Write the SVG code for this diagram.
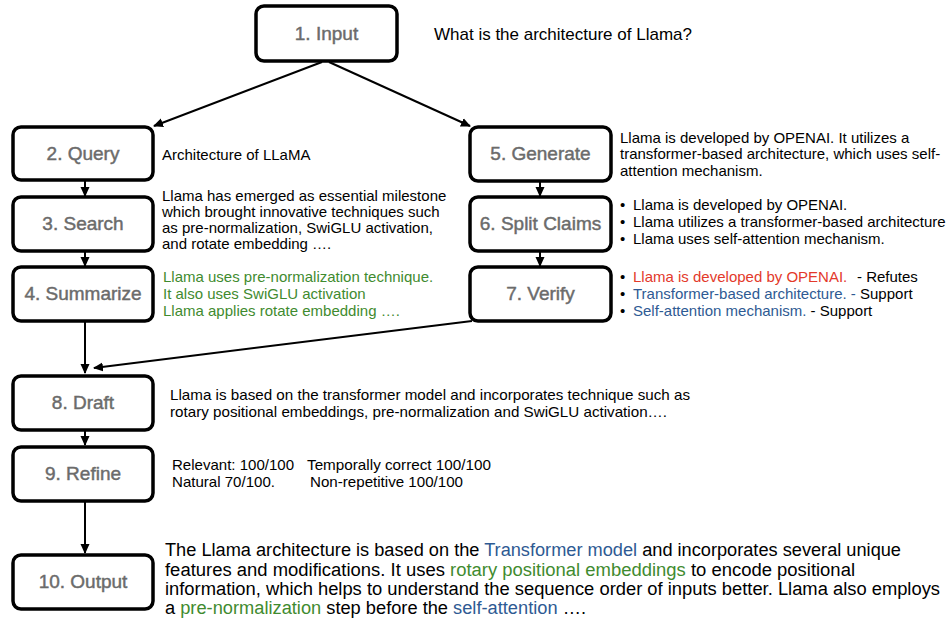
<svg xmlns="http://www.w3.org/2000/svg" width="949" height="621" viewBox="0 0 949 621">
<defs>
<marker id="ah" viewBox="0 0 10 10" refX="9" refY="5" markerWidth="10" markerHeight="10" markerUnits="userSpaceOnUse" orient="auto">
<path d="M0,0.5 L10,5 L0,9.5 Z" fill="#000"/>
</marker>
</defs>
<style>
.box{fill:#fff;stroke:#000;stroke-width:3.5}
.lbl{font-family:"Liberation Sans",Arial,sans-serif;font-size:19px;fill:#6b6b6b;stroke:#6b6b6b;stroke-width:0.45;text-anchor:middle}
.t{font-family:"Liberation Sans",Arial,sans-serif;font-size:15px;fill:#000;white-space:pre}
.c{stroke:#000;stroke-width:2;fill:none;marker-end:url(#ah)}
.g{fill:#3f8b2f}
.b{fill:#2e5a93}
.r{fill:#e3392b}
</style>
<rect width="949" height="621" fill="#fff"/>
<g id="connectors">
<line class="c" x1="322" y1="62" x2="154" y2="126"/>
<line class="c" x1="329" y1="62" x2="470" y2="126"/>
<line class="c" x1="85" y1="181" x2="85" y2="196"/>
<line class="c" x1="85" y1="251" x2="85" y2="266"/>
<line class="c" x1="85" y1="322" x2="85" y2="373"/>
<line class="c" x1="472" y1="321" x2="94" y2="368"/>
<line class="c" x1="540" y1="181" x2="540" y2="196"/>
<line class="c" x1="540" y1="251" x2="540" y2="266"/>
<line class="c" x1="85" y1="431" x2="85" y2="445"/>
<line class="c" x1="85" y1="502" x2="85" y2="553"/>
</g>
<g id="n1"><rect class="box" x="256" y="6" width="141" height="55" rx="8"/><text class="lbl" x="326.5" y="40">1. Input</text></g>
<g id="n2"><rect class="box" x="13" y="127" width="140" height="53" rx="8"/><text class="lbl" x="83" y="160">2. Query</text></g>
<g id="n3"><rect class="box" x="13" y="197" width="140" height="54" rx="8"/><text class="lbl" x="83" y="230">3. Search</text></g>
<g id="n4"><rect class="box" x="13" y="267" width="140" height="54" rx="8"/><text class="lbl" x="83" y="300">4. Summarize</text></g>
<g id="n5"><rect class="box" x="470" y="127" width="141" height="54" rx="8"/><text class="lbl" x="540.5" y="160">5. Generate</text></g>
<g id="n6"><rect class="box" x="470" y="197" width="141" height="54" rx="8"/><text class="lbl" x="540.5" y="230">6. Split Claims</text></g>
<g id="n7"><rect class="box" x="470" y="267" width="141" height="54" rx="8"/><text class="lbl" x="540.5" y="300">7. Verify</text></g>
<g id="n8"><rect class="box" x="13" y="376" width="140" height="54" rx="8"/><text class="lbl" x="83" y="409">8. Draft</text></g>
<g id="n9"><rect class="box" x="13" y="447" width="140" height="54" rx="8"/><text class="lbl" x="83" y="480">9. Refine</text></g>
<g id="n10"><rect class="box" x="13" y="555" width="140" height="54" rx="8"/><text class="lbl" x="83" y="588">10. Output</text></g>
<g id="texts">
<text class="t" x="434" y="40" style="font-size:17px">What is the architecture of Llama?</text>
<text class="t" x="162" y="160">Architecture of LLaMA</text>
<text class="t" x="162" y="201">Llama has emerged as essential milestone</text>
<text class="t" x="162" y="217">which brought innovative techniques such</text>
<text class="t" x="162" y="233">as pre-normalization, SwiGLU activation,</text>
<text class="t" x="162" y="249">and rotate embedding ….</text>
<text class="t g" x="163" y="282">Llama uses pre-normalization technique.</text>
<text class="t g" x="163" y="299">It also uses SwiGLU activation</text>
<text class="t g" x="163" y="316">Llama applies rotate embedding ….</text>
<text class="t" x="620" y="143">Llama is developed by OPENAI. It utilizes a</text>
<text class="t" x="620" y="159">transformer-based architecture, which uses self-</text>
<text class="t" x="620" y="176">attention mechanism.</text>
<text class="t" x="620" y="210">•</text><text class="t" x="633" y="210">Llama is developed by OPENAI.</text>
<text class="t" x="620" y="227">•</text><text class="t" x="633" y="227">Llama utilizes a transformer-based architecture</text>
<text class="t" x="620" y="244">•</text><text class="t" x="633" y="244">Llama uses self-attention mechanism.</text>
<text class="t" x="620" y="282">•</text><text class="t r" x="633" y="282">Llama is developed by OPENAI.</text><text class="t" x="857" y="282">- Refutes</text>
<text class="t" x="620" y="299">•</text><text class="t" x="633" y="299"><tspan class="b">Transformer-based architecture. -</tspan> Support</text>
<text class="t" x="620" y="316">•</text><text class="t" x="633" y="316"><tspan class="b">Self-attention mechanism.</tspan> - Support</text>
<text class="t" x="170" y="400" textLength="520" lengthAdjust="spacingAndGlyphs">Llama is based on the transformer model and incorporates technique such as</text>
<text class="t" x="170" y="417" textLength="497" lengthAdjust="spacingAndGlyphs">rotary positional embeddings, pre-normalization and SwiGLU activation….</text>
<text class="t" x="172" y="470" textLength="122" lengthAdjust="spacingAndGlyphs">Relevant: 100/100</text>
<text class="t" x="307" y="470" textLength="184" lengthAdjust="spacingAndGlyphs">Temporally correct 100/100</text>
<text class="t" x="172" y="487" textLength="103" lengthAdjust="spacingAndGlyphs">Natural 70/100.</text>
<text class="t" x="310" y="487" textLength="153" lengthAdjust="spacingAndGlyphs">Non-repetitive 100/100</text>
<text class="t" x="165" y="556" style="font-size:18px" textLength="736" lengthAdjust="spacingAndGlyphs">The Llama architecture is based on the <tspan class="b">Transformer model</tspan> and incorporates several unique</text>
<text class="t" x="165" y="576" style="font-size:18px" textLength="690" lengthAdjust="spacingAndGlyphs">features and modifications. It uses <tspan class="g">rotary positional embeddings</tspan> to encode positional</text>
<text class="t" x="165" y="595" style="font-size:18px" textLength="775" lengthAdjust="spacingAndGlyphs">information, which helps to understand the sequence order of inputs better. Llama also employs</text>
<text class="t" x="165" y="614" style="font-size:18px" textLength="421" lengthAdjust="spacingAndGlyphs">a <tspan class="g">pre-normalization</tspan> step before the <tspan class="b">self-attention</tspan> ….</text>
</g>
</svg>
